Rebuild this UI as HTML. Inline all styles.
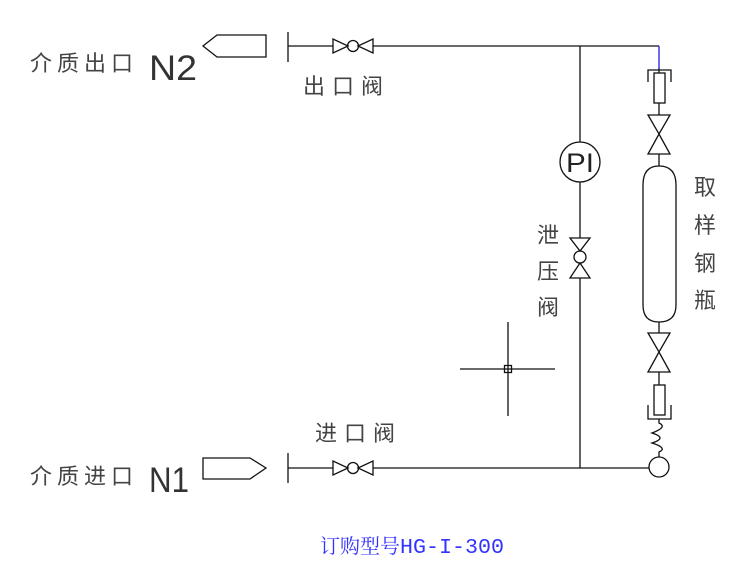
<!DOCTYPE html>
<html><head><meta charset="utf-8"><style>
html,body{margin:0;padding:0;background:#fff;}
svg{display:block;}
.t{font-family:"Liberation Sans","Noto Sans CJK SC",sans-serif;fill:#444;}
</style></head><body>
<svg width="741" height="579" viewBox="0 0 741 579" xmlns="http://www.w3.org/2000/svg">
<g stroke="#111" stroke-width="1.3" fill="none">
<line x1="288" y1="46" x2="333" y2="46"/>
<line x1="373" y1="46" x2="659" y2="46"/>
<line x1="288" y1="32" x2="288" y2="62"/>
<path d="M333,39 L333,53 L348,46 Z M373,39 L373,53 L358,46 Z"/>
<circle cx="353" cy="46" r="5.5"/>
<path d="M266,35 L266,57 L217,57 L203,46 L217,35 Z"/>
<line x1="288" y1="468" x2="333" y2="468"/>
<line x1="373" y1="468" x2="649" y2="468"/>
<line x1="288" y1="453" x2="288" y2="483"/>
<path d="M333,461 L333,475 L348,468 Z M373,461 L373,475 L358,468 Z"/>
<circle cx="353" cy="468" r="5.5"/>
<path d="M203,458 L203,479 L250,479 L266,468 L250,458 Z"/>
<line x1="580" y1="46" x2="580" y2="142"/>
<circle cx="580" cy="162" r="20"/>
<line x1="580" y1="182" x2="580" y2="238"/>
<path d="M570,238 L590,238 L580,251 Z M570,278 L590,278 L580,263 Z"/>
<circle cx="580" cy="257" r="6"/>
<line x1="580" y1="278" x2="580" y2="468"/>
<line x1="460" y1="369" x2="555" y2="369"/>
<line x1="508" y1="322" x2="508" y2="416"/>
<rect x="504.5" y="365.5" width="7" height="7"/>
<line x1="659" y1="68" x2="659" y2="73" />
<path d="M648,82 L648,70 L671,70 L671,82"/>
<rect x="654" y="73" width="11" height="30"/>
<line x1="659" y1="103" x2="659" y2="115"/>
<path d="M648,115 L670,115 L659,134 Z M648,154 L670,154 L659,134 Z"/>
<line x1="659" y1="154" x2="659" y2="166"/>
<path d="M643,185 Q643,166 659,166 Q676,166 676,185 L676,305 Q676,322 659,322 Q643,322 643,305 Z"/>
<line x1="659" y1="322" x2="659" y2="333"/>
<path d="M648,333 L670,333 L659,352 Z M648,372 L670,372 L659,352 Z"/>
<line x1="659" y1="372" x2="659" y2="385"/>
<rect x="654" y="385" width="11" height="30"/>
<path d="M648,405 L648,419 L671,419 L671,405"/>
<path d="M659,419 L659,423 Q668,427 652,433 Q668,438 652,443 Q668,448 659,452 L659,457"/>
<circle cx="659" cy="467" r="10"/>
</g>
<line x1="659" y1="46" x2="659" y2="69" stroke="#2020e0" stroke-width="1.3"/>
<text x="580" y="172" font-size="27" text-anchor="middle" fill="#222" font-family="'Liberation Sans',sans-serif" textLength="28" lengthAdjust="spacingAndGlyphs">PI</text>
<g class="t">
<text x="30" y="71" font-size="22" letter-spacing="5">介质出口</text>
<text x="149" y="80" font-size="35" fill="#333" textLength="48" lengthAdjust="spacingAndGlyphs">N2</text>
<text x="30" y="484" font-size="22" letter-spacing="5">介质进口</text>
<text x="149" y="492" font-size="35" fill="#333" textLength="40" lengthAdjust="spacingAndGlyphs">N1</text>
<text x="303" y="94" font-size="22" letter-spacing="7">出口阀</text>
<text x="315" y="441" font-size="22" letter-spacing="7">进口阀</text>
<text x="537" y="243" font-size="22">泄</text>
<text x="537" y="279" font-size="22">压</text>
<text x="537" y="315" font-size="22">阀</text>
<text x="694" y="195" font-size="22">取</text>
<text x="694" y="233" font-size="22">样</text>
<text x="694" y="271" font-size="22">钢</text>
<text x="694" y="308" font-size="22">瓶</text>
</g>
<text x="320" y="553" font-size="20" fill="#3333ff" font-family="'Liberation Serif','Noto Serif CJK SC',serif">订购型号<tspan font-family="'Liberation Mono',monospace" font-size="21" textLength="104" lengthAdjust="spacingAndGlyphs">HG-I-300</tspan></text>
</svg>
</body></html>
